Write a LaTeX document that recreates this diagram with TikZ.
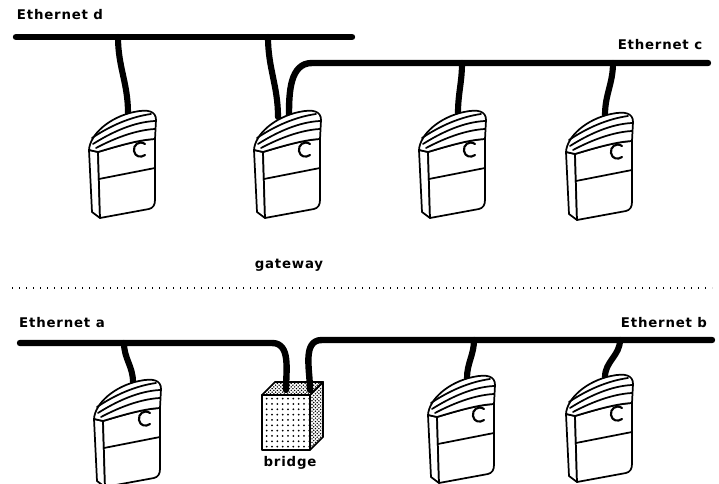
\documentclass[tikz,border=0pt]{standalone}
\usepackage{fontspec}
\setmainfont{DejaVu Sans}[LetterSpace=6]
\usetikzlibrary{patterns,backgrounds}

% stipple fills for the cube faces
\pgfdeclarepatternformonly{sparsedots}{\pgfqpoint{-1pt}{-1pt}}{\pgfqpoint{1pt}{1pt}}{\pgfqpoint{4pt}{4pt}}{%
  \pgfpathcircle{\pgfqpoint{0pt}{0pt}}{0.75pt}\pgfusepath{fill}}
\pgfdeclarepatternformonly{densedots}{\pgfqpoint{-1pt}{-1pt}}{\pgfqpoint{2pt}{2pt}}{\pgfqpoint{2.6pt}{2.6pt}}{%
  \pgfpathcircle{\pgfqpoint{0pt}{0pt}}{0.6pt}\pgfpathcircle{\pgfqpoint{1.3pt}{1.3pt}}{0.6pt}\pgfusepath{fill}}

\tikzset{
  outline/.style={line width=1.3pt, line join=round, line cap=round},
  bus/.style={line width=4.8pt, line cap=round, line join=round},
  cable/.style={line width=4.6pt, line cap=round},
  label/.style={inner sep=0pt, font=\fontsize{10}{12}\selectfont\bfseries},
  % desktop machine: side panel, front face, ridged lid and dial
  computer/.pic={
    \draw[outline, fill=white] (1,42) -- (4,104) -- (12,110) -- (10,44) -- cycle;
    \draw[outline, fill=white] (10,44) .. controls (30,38) and (50,32) .. (67,31)
      -- (67,92) .. controls (67,97) and (65,100) .. (61,101) -- (12,110) -- cycle;
    \draw[outline] (11,71) -- (67,60);
    \draw[outline, fill=white] (1,42) .. controls (2,26) and (22,9) .. (46,4)
      .. controls (60,1) and (68,3) .. (68,12) -- (67,31)
      .. controls (50,32) and (30,38) .. (10,44) -- cycle;
    \draw[outline] (4,30) .. controls (22,18) and (42,9) .. (63,6);
    \draw[outline] (5,36) .. controls (24,24) and (46,14) .. (67,13);
    \draw[outline] (8,40) .. controls (27,30) and (48,22) .. (67,21);
    \draw[outline, line width=1.6pt] (57,36) .. controls (51,32) and (45,37) .. (46,43)
      .. controls (47,49) and (53,50) .. (57,47);
    \coordinate (-port) at (40,5);
    \coordinate (-pa) at (25,9);
    \coordinate (-pb) at (36,7);
  },
  % stippled cube
  cube/.pic={
    \draw[outline, pattern=densedots] (0,0) -- (13,-13) -- (61,-13) -- (48,0) -- cycle;
    \draw[outline, pattern=densedots] (48,0) -- (61,-13) -- (61,42) -- (48,55) -- cycle;
    \draw[outline, pattern=sparsedots] (0,0) rectangle (48,55);
    \coordinate (-pa) at (24,-5);
    \coordinate (-pb) at (48,-5);
  }
}

\begin{document}
\begin{tikzpicture}[x=0.75pt, y=-0.75pt]
\useasboundingbox (0,0) rectangle (719,484);

% ---- upper network ----
\node[label] (ld) at (60,15) {Ethernet d};
\node[label] (lc) at (660,45) {Ethernet c};
\node[label] (lg) at (289,265) {gateway};

\coordinate (d-w) at (16,37);
\coordinate (d-e) at (352,37);
\coordinate (d1) at (118,37);
\coordinate (d2) at (268,37);
\coordinate (c-w) at (312,63);
\coordinate (c-e) at (708,63);
\coordinate (c3t) at (462,63);
\coordinate (c4t) at (613,63);

\pic (c1) at (88,108) {computer};
\pic (gw) at (253,108) {computer};
\pic (c3) at (418,108) {computer};
\pic (c4) at (565,110) {computer};

% ---- lower network ----
\node[label] (la) at (62,323) {Ethernet a};
\node[label] (lb) at (664,323) {Ethernet b};
\node[label] (lbr) at (290,463) {bridge};

\coordinate (a-w) at (20,343);
\coordinate (a-e) at (272,343);
\coordinate (b-w) at (322,340);
\coordinate (b-e) at (712,340);
\coordinate (a1) at (124,343);
\coordinate (b3t) at (474,340);
\coordinate (b4t) at (620,340);

\pic (b1) at (93,377) {computer};
\pic (br) at (262,395) {cube};
\pic (b3) at (427,373) {computer};
\pic (b4) at (565,372) {computer};

% separator between the two networks
\draw[line width=1.1pt, dash pattern=on 1.1pt off 4.15pt] (12,288) -- (712,288);

\begin{scope}[on background layer]
  \draw[bus] (d-w) -- (d-e);
  \draw[bus] (c-e) -- (c-w) to[out=180, in=90] (gw-pb);
  \draw[cable] (d1) to[out=-90, in=90] (c1-port);
  \draw[cable] (d2) to[out=-90, in=90] (gw-pa);
  \draw[cable] (c3t) to[out=-90, in=90] (c3-port);
  \draw[cable] (c4t) to[out=-90, in=90] (c4-port);

  \draw[bus] (a-w) -- (a-e) to[out=0, in=90] (br-pa);
  \draw[bus] (b-e) -- (b-w) to[out=180, in=90] (br-pb);
  \draw[cable] (a1) to[out=-90, in=90] (b1-port);
  \draw[cable] (b3t) to[out=-90, in=90] (b3-port);
  \draw[cable] (b4t) to[out=-90, in=90] (b4-port);
\end{scope}
\end{tikzpicture}
\end{document}
